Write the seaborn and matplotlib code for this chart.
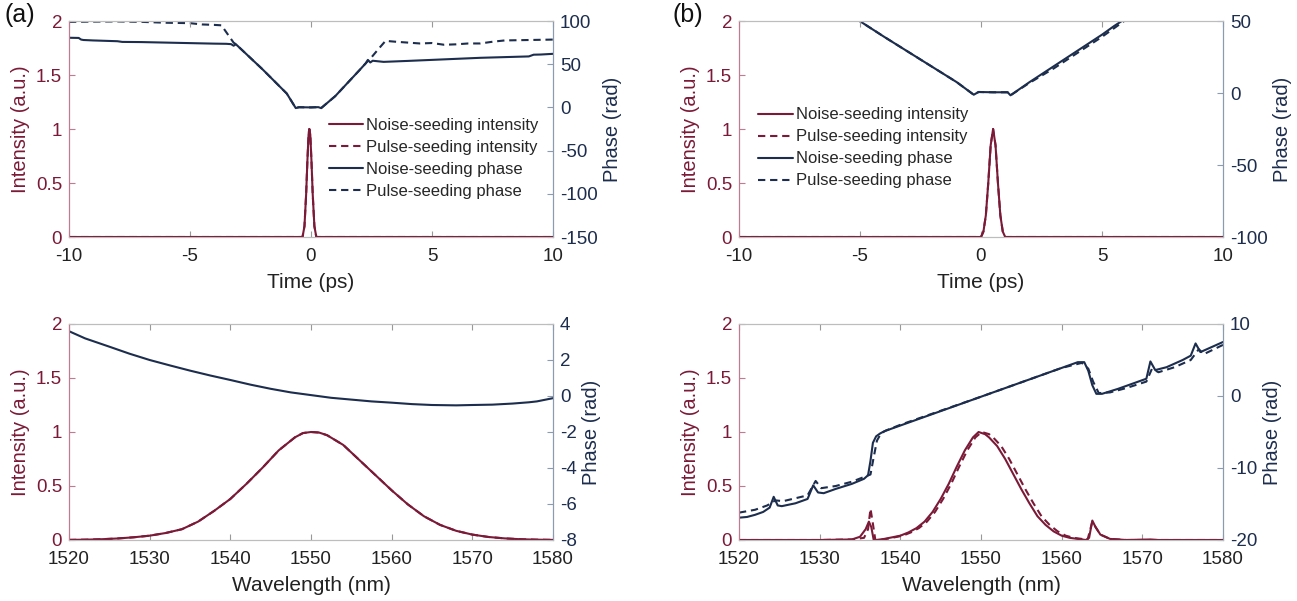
import numpy as np
import pandas as pd
import seaborn as sns
import matplotlib.pyplot as plt
from matplotlib.lines import Line2D

sns.set_style("ticks")
plt.rcParams.update({
    "font.family": ["Liberation Sans", "DejaVu Sans"],
    "font.size": 13,
    "xtick.direction": "in",
    "ytick.direction": "in",
})

int_col = "#7b1a38"
ph_col = "#1c2d4d"
left_spine = "#c07a92"
right_spine = "#8d9bb0"
box_col = "#bdbdbd"
dash = (0, (3.5, 2.3))

# ---------------- (a) time domain ----------------
t_int_a = [-10, -0.4, -0.35, -0.27, -0.2, -0.15, -0.1, -0.07, -0.03, 0.02, 0.07, 0.14, 0.22, 0.27, 10]
int_a_noise = [0, 0, 0, 0.1, 0.4, 0.7, 0.95, 1.0, 0.95, 0.7, 0.4, 0.1, 0, 0, 0]
int_a_pulse = [0, 0, 0, 0.1, 0.4, 0.7, 0.95, 1.0, 0.95, 0.7, 0.4, 0.1, 0, 0, 0]

t_ph_a_noise = [-10, -9.6, -9.5, -9.4, -9, -8, -7.8, -7, -6, -5, -4, -3.5, -3.3, -3.2, -3.1,
                -2, -1, -0.63, -0.5, 0, 0.3, 0.42, 1, 2, 2.26, 2.35, 2.45, 2.55, 3, 4, 5, 6,
                7, 8, 9, 9.2, 9.5, 10]
ph_a_noise = [80.6, 80.4, 78.5, 78.0, 77.5, 76.6, 75.8, 75.6, 75.0, 74.4, 73.8, 73.6, 73.2, 71.4, 73.0,
              44.0, 16.0, -0.8, 0.2, 0.0, 0.3, -0.8, 13.0, 43.0, 51.0, 55.0, 52.0, 54.0, 52.7, 53.8, 55.0, 56.2,
              57.4, 58.2, 59.0, 61.0, 61.2, 62.0]

t_ph_a_pulse = [-10, -9, -8, -7, -6, -5, -4.5, -4, -3.7, -3.5, -3.3, -3.2, -3.1,
                -2, -1, -0.63, -0.5, 0, 0.3, 0.42, 1, 2, 2.26, 2.5, 2.8, 3.08, 3.5, 4, 4.5,
                5, 5.5, 6, 6.5, 7, 7.5, 8, 9, 10]
ph_a_pulse = [99.0, 99.3, 99.5, 99.0, 98.0, 97.5, 96.0, 95.5, 95.0, 87.0, 79.0, 75.0, 73.0,
              44.0, 16.0, -0.8, 0.2, 0.0, 0.3, -0.8, 13.0, 43.0, 51.0, 58.0, 68.0, 77.0, 76.0, 75.0, 74.0,
              74.5, 72.5, 73.0, 74.0, 74.0, 76.0, 77.5, 78.0, 78.5]

# ---------------- (b) time domain ----------------
t_int_b = [-10, -0.1, 0.0, 0.1, 0.2, 0.3, 0.4, 0.5, 0.6, 0.7, 0.8, 0.9, 1.0, 1.1, 10]
int_b_noise = [0, 0, 0, 0.05, 0.2, 0.5, 0.85, 1.0, 0.85, 0.5, 0.2, 0.05, 0, 0, 0]
int_b_pulse = [0, 0, 0, 0.05, 0.2, 0.5, 0.85, 1.0, 0.85, 0.5, 0.2, 0.05, 0, 0, 0]

t_ph_b_noise = [-5.2, -4, -3, -2, -1, -0.3, -0.1, 0.5, 1.1, 1.22, 2, 2.5, 3, 3.5, 4, 4.5, 5, 5.5, 6.0]
ph_b_noise = [52.0, 39.0, 28.5, 18.0, 7.5, -1.2, 0.7, 0.5, 0.5, -1.6, 7.5, 13.0, 18.5, 24.0, 29.5, 35.0, 40.5, 46.5, 52.0]

t_ph_b_pulse = [-5.2, -4, -3, -2, -1, -0.3, -0.1, 0.5, 1.1, 1.22, 2, 2.5, 3, 3.5, 4, 4.5, 5, 5.5, 6.0]
ph_b_pulse = [52.0, 39.0, 28.5, 18.0, 7.5, -1.2, 0.7, 0.5, 0.5, -1.6, 7.0, 12.0, 17.0, 22.5, 28.0, 33.5, 39.0, 45.0, 51.0]

# ---------------- (a) spectral domain ----------------
wl_a = [1520, 1522, 1524, 1526, 1528, 1530, 1532, 1534, 1536, 1538, 1540, 1542, 1544, 1546, 1548,
        1549, 1550, 1551, 1552, 1554, 1556, 1558, 1560, 1562, 1564, 1566, 1568, 1570, 1572, 1574,
        1576, 1578, 1580]
spec_a_noise = [0.001, 0.003, 0.007, 0.014, 0.025, 0.04, 0.065, 0.1, 0.17, 0.27, 0.38, 0.52, 0.67, 0.83, 0.95,
                0.99, 1.0, 0.995, 0.97, 0.88, 0.74, 0.6, 0.46, 0.33, 0.22, 0.14, 0.085, 0.05, 0.028, 0.015,
                0.007, 0.003, 0.001]
spec_a_pulse = spec_a_noise

wl_ph_a = [1520, 1522, 1525, 1527.5, 1530, 1532.5, 1535, 1537.5, 1540, 1542.5, 1545, 1547.5, 1550,
           1552.5, 1555, 1557.5, 1560, 1562.5, 1565, 1568, 1570, 1572.5, 1575, 1577, 1578, 1580]
sph_a = [3.6, 3.2, 2.74, 2.35, 2.0, 1.7, 1.41, 1.14, 0.89, 0.63, 0.4, 0.2, 0.05,
         -0.1, -0.2, -0.3, -0.37, -0.45, -0.5, -0.52, -0.5, -0.48, -0.42, -0.35, -0.3, -0.12]

# ---------------- (b) spectral domain ----------------
wl_b_noise = [1520, 1530, 1534, 1535, 1535.7, 1536.1, 1536.4, 1536.7, 1537, 1538, 1540, 1541, 1542, 1543,
              1544, 1545, 1546, 1547, 1548, 1549, 1549.7, 1550.5, 1551, 1552, 1553, 1554, 1555, 1556,
              1557, 1558, 1559, 1560, 1561, 1562, 1563, 1563.4, 1563.8, 1564.2, 1564.8, 1566, 1568,
              1571, 1572, 1580]
spec_b_noise = [0, 0, 0.005, 0.03, 0.1, 0.17, 0.12, 0.0, 0.0, 0.01, 0.04, 0.07, 0.11, 0.17,
                0.26, 0.38, 0.52, 0.68, 0.83, 0.95, 1.0, 0.98, 0.95, 0.87, 0.75, 0.61, 0.47, 0.34,
                0.22, 0.14, 0.08, 0.04, 0.02, 0.01, 0.0, 0.02, 0.18, 0.12, 0.05, 0.01, 0.0,
                0.005, 0, 0]

wl_b_pulse = [1520, 1530, 1534, 1535.5, 1536.0, 1536.3, 1536.6, 1536.9, 1537.3, 1538.3, 1540.3, 1541.3,
              1542.3, 1543.3, 1544.3, 1545.3, 1546.3, 1547.3, 1548.3, 1549.3, 1550.1, 1551, 1551.5,
              1552.5, 1553.5, 1554.5, 1555.5, 1556.5, 1557.5, 1558.5, 1559.5, 1560.5, 1561.5, 1562.5,
              1563.2, 1563.8, 1564.2, 1564.8, 1566, 1568, 1580]
spec_b_pulse = [0, 0, 0.005, 0.02, 0.1, 0.29, 0.15, 0.0, 0.0, 0.01, 0.04, 0.07,
                0.11, 0.17, 0.26, 0.38, 0.52, 0.68, 0.83, 0.95, 1.0, 0.98, 0.95,
                0.87, 0.75, 0.61, 0.47, 0.34, 0.22, 0.14, 0.08, 0.04, 0.02, 0.01,
                0.0, 0.17, 0.12, 0.05, 0.01, 0.0, 0]

wl_ph_b_noise = [1520, 1521, 1522, 1523, 1523.8, 1524.3, 1524.8, 1525.3, 1527, 1528.5, 1529.2, 1529.8,
                 1530.5, 1532, 1534, 1535.5, 1536, 1536.3, 1536.6, 1537, 1537.5, 1538, 1540, 1545,
                 1550, 1555, 1560, 1562, 1562.8, 1563.3, 1563.8, 1564.3, 1565, 1567, 1569, 1570.5,
                 1571, 1571.6, 1573, 1575, 1576, 1576.6, 1577.2, 1578, 1580]
sph_b_noise = [-16.9, -16.8, -16.5, -16.1, -15.5, -14.0, -15.2, -15.3, -14.9, -14.3, -12.4, -13.4,
               -13.5, -12.9, -12.2, -11.5, -11.0, -9.0, -6.5, -5.6, -5.2, -4.9, -4.1, -2.1,
               -0.1, 1.9, 3.9, 4.7, 4.7, 3.5, 1.5, 0.3, 0.3, 1.0, 1.8, 2.4,
               4.8, 3.6, 4.0, 5.0, 5.6, 7.3, 6.1, 6.5, 7.5]

wl_ph_b_pulse = [1520, 1522, 1523.5, 1524.5, 1525.5, 1528.5, 1529.5, 1530.2, 1532, 1534, 1536.3,
                 1536.7, 1537.1, 1537.6, 1538.2, 1540, 1550, 1560, 1562.5, 1563.3, 1563.9, 1564.6,
                 1566, 1568, 1570.5, 1571.2, 1572, 1574, 1576, 1577, 1577.6, 1580]
sph_b_pulse = [-16.2, -15.8, -15.2, -14.5, -14.6, -13.8, -11.8, -12.8, -12.5, -11.9, -10.9,
               -8.5, -6.2, -5.2, -4.8, -4.0, -0.1, 3.9, 4.6, 3.8, 2.0, 0.4,
               0.5, 1.1, 2.0, 3.8, 3.3, 4.0, 5.0, 6.5, 5.8, 7.1]

fig = plt.figure(figsize=(12.97, 6.01), dpi=100)
W, H = 1297, 601


def make_axes(x0, x1, ytop, ybot):
    ax = fig.add_axes([x0 / W, 1 - ybot / H, (x1 - x0) / W, (ybot - ytop) / H])
    ax2 = ax.twinx()
    return ax, ax2


def style(ax, ax2, xlim, xticks, xlabel, ph_lim, ph_ticks):
    ax.set_xlim(*xlim)
    ax.set_xticks(xticks)
    ax.set_ylim(0, 2)
    ax.set_yticks([0, 0.5, 1, 1.5, 2])
    ax.set_yticklabels(["0", "0.5", "1", "1.5", "2"])
    ax.set_xlabel(xlabel, fontsize=15, color="#222222", labelpad=6)
    ax.set_ylabel("Intensity (a.u.)", fontsize=14.5, color=int_col, labelpad=4)
    ax.tick_params(axis="x", top=True, colors="#222222", labelsize=13.5, length=4, color="#999999", pad=8)
    ax.tick_params(axis="y", colors=int_col, labelsize=13.5, length=4, color=left_spine, pad=5)
    ax2.set_ylim(*ph_lim)
    ax2.set_yticks(ph_ticks)
    ax2.set_ylabel("Phase (rad)", fontsize=14.5, color=ph_col, labelpad=4)
    ax2.tick_params(axis="y", colors=ph_col, labelsize=13.5, length=4, color=right_spine, pad=5)
    for a in (ax, ax2):
        a.spines["top"].set_visible(True)
        a.spines["right"].set_visible(True)
        a.spines["top"].set_color(box_col)
        a.spines["bottom"].set_color(box_col)
        a.spines["left"].set_color(left_spine)
        a.spines["right"].set_color(right_spine)
    ax.set_zorder(ax2.get_zorder() + 1)
    ax.patch.set_visible(False)
    ax.set_xticklabels([str(v) for v in xticks])
    ax2.set_yticklabels([str(v) for v in ph_ticks])


def line(ax, x, y, color, ls="-"):
    sns.lineplot(x=x, y=y, ax=ax, color=color, linewidth=1.5, linestyle=ls,
                 sort=False, estimator=None, legend=False)


handles = [Line2D([], [], color=int_col, lw=1.5),
           Line2D([], [], color=int_col, lw=1.5, ls=dash),
           Line2D([], [], color=ph_col, lw=1.5),
           Line2D([], [], color=ph_col, lw=1.5, ls=dash)]
labels = ["Noise-seeding intensity", "Pulse-seeding intensity",
          "Noise-seeding phase", "Pulse-seeding phase"]
leg_kw = dict(loc="upper left", frameon=False, fontsize=12, handlelength=2.05,
              handletextpad=0.2, labelspacing=0.42, borderaxespad=0, borderpad=0)

# panel (a) top
ax, ax2 = make_axes(69, 553, 21, 237)
line(ax2, t_ph_a_pulse, ph_a_pulse, ph_col, dash)
line(ax2, t_ph_a_noise, ph_a_noise, ph_col)
line(ax, t_int_a, int_a_pulse, int_col, dash)
line(ax, t_int_a, int_a_noise, int_col)
style(ax, ax2, (-10, 10), [-10, -5, 0, 5, 10], "Time (ps)", (-150, 100), [-150, -100, -50, 0, 50, 100])
ax.legend(handles, labels, bbox_to_anchor=(0.537, 0.55), **leg_kw)

# panel (b) top
bx, bx2 = make_axes(739, 1223, 21, 237)
line(bx2, t_ph_b_pulse, ph_b_pulse, ph_col, dash)
line(bx2, t_ph_b_noise, ph_b_noise, ph_col)
line(bx, t_int_b, int_b_pulse, int_col, dash)
line(bx, t_int_b, int_b_noise, int_col)
style(bx, bx2, (-10, 10), [-10, -5, 0, 5, 10], "Time (ps)", (-100, 50), [-100, -50, 0, 50])
bx.legend(handles, labels, bbox_to_anchor=(0.04, 0.60), **leg_kw)

# panel (a) bottom
cx, cx2 = make_axes(69, 553, 324, 540)
line(cx2, wl_ph_a, sph_a, ph_col)
line(cx, wl_a, spec_a_pulse, int_col, dash)
line(cx, wl_a, spec_a_noise, int_col)
style(cx, cx2, (1520, 1580), list(range(1520, 1581, 10)), "Wavelength (nm)", (-8, 4), [-8, -6, -4, -2, 0, 2, 4])

# panel (b) bottom
dx, dx2 = make_axes(739, 1223, 324, 540)
line(dx2, wl_ph_b_pulse, sph_b_pulse, ph_col, dash)
line(dx2, wl_ph_b_noise, sph_b_noise, ph_col)
line(dx, wl_b_pulse, spec_b_pulse, int_col, dash)
line(dx, wl_b_noise, spec_b_noise, int_col)
style(dx, dx2, (1520, 1580), list(range(1520, 1581, 10)), "Wavelength (nm)", (-20, 10), [-20, -10, 0, 10])

fig.text(5 / W, 1 - 3 / H, "(a)", fontsize=18, va="top", ha="left", color="#111111")
fig.text(673 / W, 1 - 3 / H, "(b)", fontsize=18, va="top", ha="left", color="#111111")

fig.savefig("out.png", dpi=100)
